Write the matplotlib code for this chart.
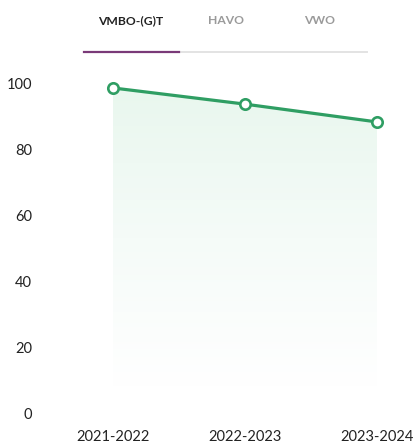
import numpy as np
import matplotlib
matplotlib.use("Agg")
import matplotlib.pyplot as plt
from matplotlib.colors import LinearSegmentedColormap

# Data
years = ["2021-2022", "2022-2023", "2023-2024"]
values = [98.5, 93.6, 88.2]
yticks = [0, 20, 40, 60, 80, 100]
tabs = ["VMBO-(G)T", "HAVO", "VWO"]

GREEN = "#2f9e63"
W, H = 419, 448
fig = plt.figure(figsize=(W / 100, H / 100), dpi=100)

def px(x, y):
    return x / W, 1 - y / H

# Axes placement (pixels): left 60, right 410, top 60, bottom 420
ax = fig.add_axes([60 / W, 1 - 420 / H, 350 / W, 360 / H])
x = np.arange(len(years))
ax.set_xlim(-0.4015, 2.25)
ax.set_ylim(-2.12, 106.97)

# Gradient area under the line
fill_bottom = 8
poly = ax.fill_between(x, values, fill_bottom, color="none", lw=0)
cmap = LinearSegmentedColormap.from_list("g", ["#ffffff", "#f5fbf8", "#e9f7ee"])
grad = np.linspace(0, 1, 256).reshape(-1, 1)
im = ax.imshow(grad, extent=[x[0], x[-1], fill_bottom, max(values)],
               origin="lower", aspect="auto", cmap=cmap, zorder=1)
im.set_clip_path(poly.get_paths()[0], transform=ax.transData)

ax.plot(x, values, color=GREEN, lw=2.3, zorder=3, solid_capstyle="round",
        marker="o", markersize=7.5, markerfacecolor="white",
        markeredgecolor=GREEN, markeredgewidth=1.9, clip_on=False)

ax.set_xticks(x)
ax.set_xticklabels(years)
ax.set_yticks(yticks)
for s in ax.spines.values():
    s.set_visible(False)
ax.tick_params(axis="both", length=0, labelsize=10.5, colors="#222222")
ax.tick_params(axis="y", pad=20)
ax.tick_params(axis="x", pad=7)
for lab in ax.get_xticklabels() + ax.get_yticklabels():
    lab.set_fontfamily("Lato")

# Tab header
tab_x = [131, 226, 320]
tab_colors = ["#222222", "#9a9a9a", "#9a9a9a"]
for t, tx, c in zip(tabs, tab_x, tab_colors):
    fig.text(*px(tx, 21), t, ha="center", va="center", fontsize=8.7,
             fontweight="bold", color=c, family="Lato")
fig.add_artist(plt.Line2D([84 / W, 367 / W], [1 - 52 / H] * 2,
                          color="#e3e3e3", lw=1.4))
fig.add_artist(plt.Line2D([84 / W, 179 / W], [1 - 52 / H] * 2,
                          color="#7a3a78", lw=1.6))

fig.savefig("out.png", dpi=100)
